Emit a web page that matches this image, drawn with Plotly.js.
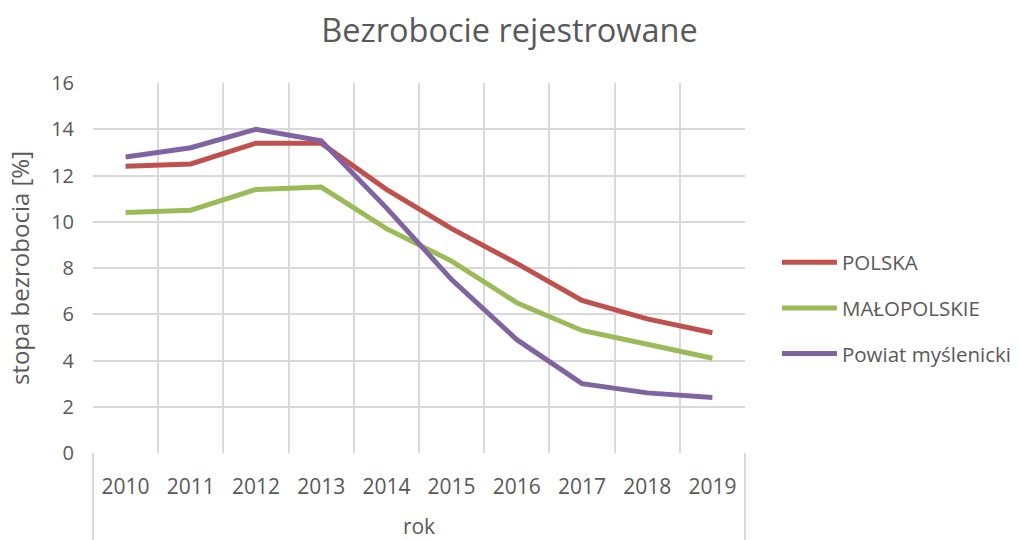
<!DOCTYPE html>
<html><head><meta charset="utf-8">
<script src="https://cdn.plot.ly/plotly-3.0.1.min.js"></script>
<style>body{margin:0;background:#fff}</style>
</head><body>
<div id="chart" style="width:1019px;height:540px"></div>
<script>
const years = ['2010','2011','2012','2013','2014','2015','2016','2017','2018','2019'];
const polska = [12.4, 12.5, 13.4, 13.4, 11.4, 9.7, 8.2, 6.6, 5.8, 5.2];
const malopolskie = [10.4, 10.5, 11.4, 11.5, 9.7, 8.3, 6.5, 5.3, 4.7, 4.1];
const myslenicki = [12.8, 13.2, 14.0, 13.5, 10.6, 7.5, 4.9, 3.0, 2.6, 2.4];
const names = ['POLSKA', 'MAŁOPOLSKIE', 'Powiat myślenicki'];
const colors = ['#C0504D', '#9BBB59', '#8064A2'];
const series = [polska, malopolskie, myslenicki];

const font = '"Open Sans", sans-serif';
const grey = '#595959';
const traces = series.map((s, i) => ({
  x: years, y: s, type: 'scatter', mode: 'lines', name: names[i],
  legendgroup: 'g' + i,
  line: {color: colors[i], width: 5}
}));

const layout = {
  width: 1019, height: 540,
  margin: {l: 93, r: 274, t: 83, b: 87, autoexpand: false},
  paper_bgcolor: '#fff', plot_bgcolor: '#fff',
  font: {family: font, color: grey, size: 20},
  title: {text: 'Bezrobocie rejestrowane', x: 0.5, xref: 'container', y: 0.944, yref: 'container', yanchor: 'middle',
          font: {size: 32.5, color: grey, family: font}},
  xaxis: {type: 'category', tickson: 'boundaries', showgrid: true, gridcolor: '#d9d9d9', gridwidth: 2,
          range: [-0.5, 9.5], ticks: '', zeroline: false, showline: false,
          tickfont: {size: 21, color: grey}, ticklabelstandoff: 19,
          title: {text: 'rok', font: {size: 21, color: grey}, standoff: 27}},
  yaxis: {range: [0, 16], dtick: 2, showgrid: true, gridcolor: '#d9d9d9', gridwidth: 2,
          zeroline: false, ticks: '', showline: false, tickfont: {size: 20, color: grey},
          ticklabelstandoff: 18,
          title: {text: 'stopa bezrobocia [%]', font: {size: 24, color: grey}, standoff: 14}},
  legend: {x: 1.049, xanchor: 'left', y: 0.392, yanchor: 'middle', traceorder: 'grouped', tracegroupgap: 16,
           itemwidth: 55, font: {size: 20.5, color: grey}, bgcolor: 'rgba(0,0,0,0)'},
  shapes: [
    {type: 'line', xref: 'paper', yref: 'paper', x0: 0, x1: 0, y0: 0, y1: -0.24, line: {color: '#d9d9d9', width: 2}},
    {type: 'line', xref: 'paper', yref: 'paper', x0: 1, x1: 1, y0: 0, y1: -0.24, line: {color: '#d9d9d9', width: 2}}
  ]
};
Plotly.newPlot('chart', traces, layout, {displayModeBar: false, staticPlot: true});
</script>
</body></html>
